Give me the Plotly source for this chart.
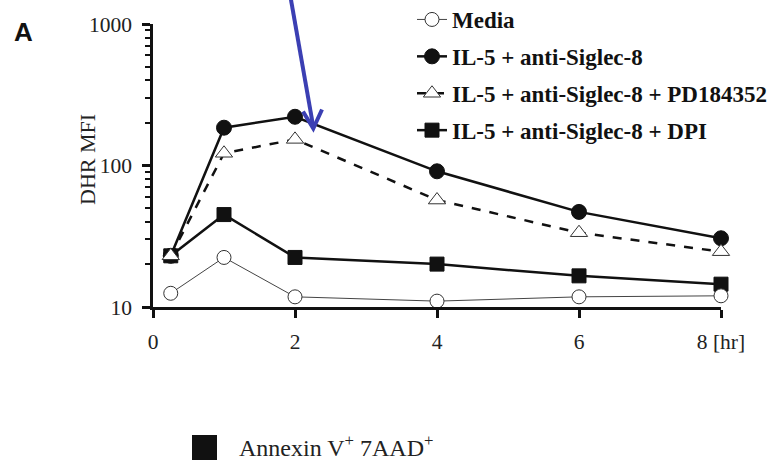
import plotly.graph_objects as go

# Time points [hr] and DHR MFI readings for each condition
hours = [0.25, 1, 2, 4, 6, 8]
media = [12.5, 22.4, 11.8, 11.0, 11.8, 12.0]
il5_siglec8 = [23, 185, 221, 91, 47, 30.6]
il5_siglec8_pd = [23, 122, 153, 57, 33.5, 24.6]
il5_siglec8_dpi = [23, 45, 22.4, 20.1, 16.6, 14.5]

x_ticks = [0, 2, 4, 6, 8]
x_tick_text = ["0", "2", "4", "6", "8 [hr]"]
y_ticks = [10, 100, 1000]
y_tick_text = ["10", "100", "1000"]
y_minor = [m * d for d in (10, 100) for m in range(2, 10)]

W, H = 771, 460
L, R, T, B = 153, 50, 24, 153
PW, PH = W - L - R, H - T - B


def px(x):
    return (x - L) / PW


def py(y):
    return (H - B - y) / PH


SERIF = "Liberation Serif"
INK = "#111111"

fig = go.Figure()

fig.add_trace(go.Scatter(
    x=hours, y=il5_siglec8_dpi, name="IL-5 + anti-Siglec-8 + DPI",
    mode="lines+markers", legendrank=4, legendgroup="d",
    line=dict(color=INK, width=2.5),
    marker=dict(symbol="square", size=14, color=INK, line=dict(color=INK, width=1)),
    cliponaxis=False,
))
fig.add_trace(go.Scatter(
    x=hours, y=il5_siglec8, name="IL-5 + anti-Siglec-8",
    mode="lines+markers", legendrank=2, legendgroup="b",
    line=dict(color=INK, width=2.5),
    marker=dict(symbol="circle", size=15, color=INK, line=dict(color=INK, width=1)),
    cliponaxis=False,
))
fig.add_trace(go.Scatter(
    x=hours, y=il5_siglec8_pd, name="IL-5 + anti-Siglec-8 + PD184352",
    mode="lines+markers", legendrank=3, legendgroup="c",
    line=dict(color=INK, width=2.5, dash="dash"),
    marker=dict(symbol="triangle-up", size=15, color="white", line=dict(color="#333333", width=1)),
    cliponaxis=False,
))
fig.add_trace(go.Scatter(
    x=hours, y=media, name="Media",
    mode="lines+markers", legendrank=1, legendgroup="a",
    line=dict(color="#444444", width=1),
    marker=dict(symbol="circle", size=14, color="white", line=dict(color="#333333", width=1)),
    cliponaxis=False,
))

axis_common = dict(
    showline=True, linecolor=INK, linewidth=2.5,
    ticks="outside", ticklen=8, tickwidth=2.5, tickcolor=INK,
    showgrid=False, zeroline=False,
    tickfont=dict(family=SERIF, size=21.5, color="#222222"),
)

fig.update_xaxes(
    range=[0, 8], tickvals=x_ticks, ticktext=x_tick_text,
    ticklabelstandoff=5, **axis_common,
)
fig.update_yaxes(
    type="log", range=[1, 3], tickvals=y_ticks, ticktext=y_tick_text,
    ticklabelstandoff=6,
    minor=dict(tickvals=y_minor, ticks="outside", ticklen=5, tickwidth=2, tickcolor=INK),
    **axis_common,
)

# Y-axis label, placed close to the tick labels
fig.add_annotation(text="DHR MFI", xref="paper", yref="paper",
                   x=px(87), y=py(160), xanchor="center", yanchor="middle",
                   textangle=-90, showarrow=False,
                   font=dict(family=SERIF, size=22, color="#222222"))

# Blue arrow pointing at the 2 hr peak
ARROW = "#3b3fb3"
fig.add_shape(type="line", xref="paper", yref="paper",
              x0=px(290.5), y0=py(-3), x1=px(313.3), y1=py(127),
              line=dict(color=ARROW, width=4))
fig.add_shape(type="path", xref="paper", yref="paper",
              path=f"M {px(303.0)} {py(111.5)} L {px(313.3)} {py(128.5)} L {px(322.0)} {py(109.5)}",
              line=dict(color=ARROW, width=4))

# Panel letter
fig.add_annotation(text="<b>A</b>", xref="paper", yref="paper",
                   x=px(12), y=py(32), xanchor="left", yanchor="middle",
                   showarrow=False, font=dict(family="Liberation Sans", size=26, color="#111111"))

# Next panel's key, partly visible at the bottom
fig.add_shape(type="rect", xref="paper", yref="paper",
              x0=px(192), x1=px(217), y0=py(435), y1=py(470),
              fillcolor=INK, line=dict(width=0))
fig.add_annotation(text="Annexin V<sup>+</sup> 7AAD<sup>+</sup>", xref="paper", yref="paper",
                   x=px(237), y=py(446), xanchor="left", yanchor="middle",
                   showarrow=False, font=dict(family=SERIF, size=24, color="#222222"))

fig.update_layout(
    width=W, height=H,
    margin=dict(l=L, r=R, t=T, b=B, autoexpand=False),
    paper_bgcolor="white", plot_bgcolor="white",
    legend=dict(
        x=px(412), y=py(-2), xanchor="left", yanchor="top",
        bgcolor="rgba(0,0,0,0)", borderwidth=0,
        traceorder="grouped", tracegroupgap=4,
        font=dict(family=SERIF, size=23, color="#111111", weight="bold"),
        itemwidth=30,
    ),
)

fig.write_html("out.html")
